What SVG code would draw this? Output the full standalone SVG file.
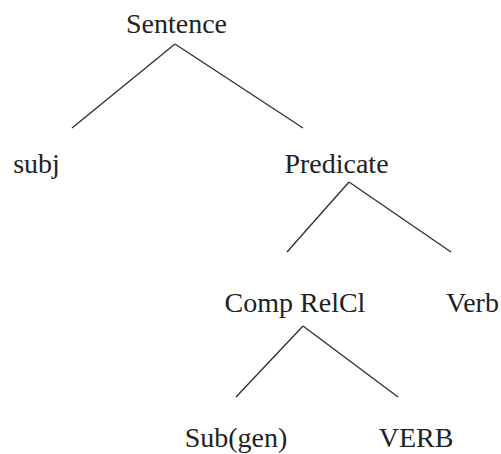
<svg xmlns="http://www.w3.org/2000/svg" width="501" height="454" viewBox="0 0 501 454">
<style>
text{font-family:"Liberation Serif","Times New Roman",serif;font-size:28px;fill:#222;text-anchor:middle}
.e line{stroke:#333;stroke-width:1.4;fill:none}
</style>
<rect width="501" height="454" fill="#fff"/>
<g class="e" id="connectors">
<line x1="175" y1="44" x2="72" y2="128"/>
<line x1="175" y1="44" x2="303" y2="128"/>
<line x1="349" y1="182" x2="287" y2="252"/>
<line x1="349" y1="182" x2="451" y2="252"/>
<line x1="303" y1="326" x2="236" y2="397"/>
<line x1="303" y1="326" x2="398" y2="397"/>
</g>
<g id="sentence"><text x="176.5" y="33">Sentence</text></g>
<g id="subj"><text x="36.5" y="173">subj</text></g>
<g id="predicate"><text x="336.5" y="173">Predicate</text></g>
<g id="comprelcl"><text x="295" y="312">Comp RelCl</text></g>
<g id="verb"><text x="472.5" y="312">Verb</text></g>
<g id="subgen"><text x="236" y="447">Sub(gen)</text></g>
<g id="VERB"><text x="416" y="447">VERB</text></g>
</svg>
